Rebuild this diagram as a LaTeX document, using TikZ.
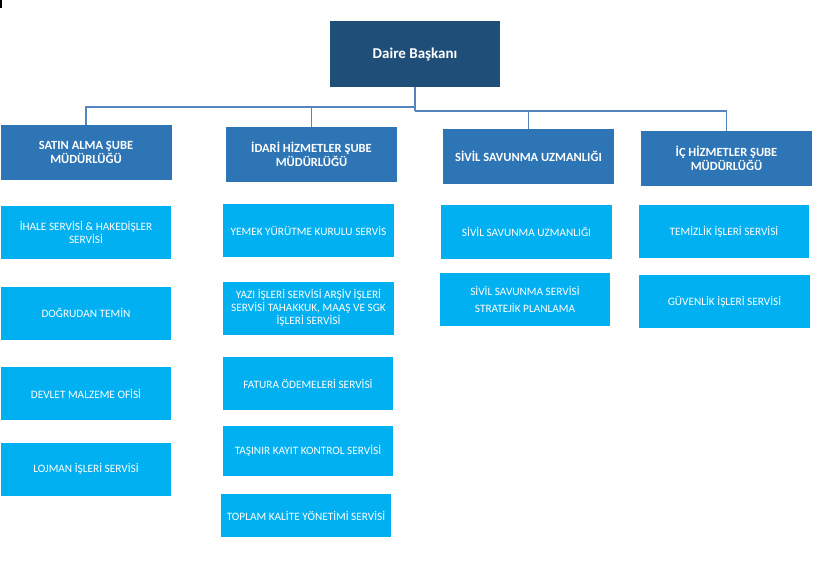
\documentclass[tikz,border=0pt]{standalone}
\usepackage{fontspec}
\setmainfont{Carlito}
\definecolor{darkb}{HTML}{1F4E79}
\definecolor{midb}{HTML}{2E75B6}
\definecolor{lightb}{HTML}{00B0F0}
\definecolor{linec}{HTML}{5585BD}
\begin{document}
\begin{tikzpicture}[x=1pt,y=-1pt,
  topbox/.style={fill=darkb,text=white,inner sep=0pt,align=center,font=\fontsize{15}{18}\selectfont\bfseries,minimum width=170pt,minimum height=66pt},
  mgrbox/.style={fill=midb,text=white,inner sep=0pt,align=center,font=\fontsize{12.5}{13.5}\selectfont\bfseries,minimum width=171pt,minimum height=55pt},
  svcbox/.style={fill=lightb,text=white,inner sep=0pt,align=center,font=\fontsize{11.3}{13}\selectfont,minimum width=170pt,minimum height=53pt},
  conn/.style={draw=linec,line width=1.2pt}]
\useasboundingbox (0,0) rectangle (818,588);
\fill[black] (0,0) rectangle (2,8);
\node[topbox] (top) at (415,54) {Daire Başkanı};
\node[mgrbox] (m1) at (86,152.5) {SATIN ALMA ŞUBE\\MÜDÜRLÜĞÜ};
\node[mgrbox] (m2) at (311.5,154.5) {İDARİ HİZMETLER ŞUBE\\MÜDÜRLÜĞÜ};
\node[mgrbox] (m3) at (528.5,156.5) {SİVİL SAVUNMA UZMANLIĞI};
\node[mgrbox] (m4) at (726.5,158.5) {İÇ HİZMETLER ŞUBE\\MÜDÜRLÜĞÜ};
\coordinate (j1) at (415,107);
\coordinate (j2) at (415,111);
\draw[conn] (top.south) -- (j2);
\draw[conn] (j1) -| (m1.north);
\draw[conn] (j1) -| (m2.north);
\draw[conn] (j2) -| (m3.north);
\draw[conn] (j2) -| (m4.north);
% column 1
\node[svcbox] (s11) at (86,232.5) {İHALE SERVİSİ \& HAKEDİŞLER\\SERVİSİ};
\node[svcbox] (s12) at (86,313) {DOĞRUDAN TEMİN};
\node[svcbox] (s13) at (86,393.5) {DEVLET MALZEME OFİSİ};
\node[svcbox] (s14) at (86,469) {LOJMAN İŞLERİ SERVİSİ};
% column 2
\node[svcbox,minimum width=171pt] (s21) at (308.5,230.5) {YEMEK YÜRÜTME KURULU SERVİS};
\node[svcbox,minimum width=171pt] (s22) at (308.5,308) {YAZI İŞLERİ SERVİSİ ARŞİV İŞLERİ\\SERVİSİ TAHAKKUK, MAAŞ VE SGK\\İŞLERİ SERVİSİ};
\node[svcbox] (s23) at (308,383.5) {FATURA ÖDEMELERİ SERVİSİ};
\node[svcbox,minimum height=50pt] (s24) at (308,451) {TAŞINIR KAYIT KONTROL SERVİSİ};
\node[svcbox,minimum height=43pt] (s25) at (306,515.5) {TOPLAM KALİTE YÖNETİMİ SERVİSİ};
% column 3
\node[svcbox,minimum width=171pt,minimum height=54pt] (s31) at (526.5,232) {SİVİL SAVUNMA UZMANLIĞI};
\node[svcbox,font=\fontsize{11.3}{17}\selectfont] (s32) at (525,299.5) {SİVİL SAVUNMA SERVİSİ\\STRATEJİK PLANLAMA};
% column 4
\node[svcbox] (s41) at (724,231.5) {TEMİZLİK İŞLERİ SERVİSİ};
\node[svcbox,minimum width=171pt] (s42) at (724.5,301.5) {GÜVENLİK İŞLERİ SERVİSİ};
\end{tikzpicture}
\end{document}
